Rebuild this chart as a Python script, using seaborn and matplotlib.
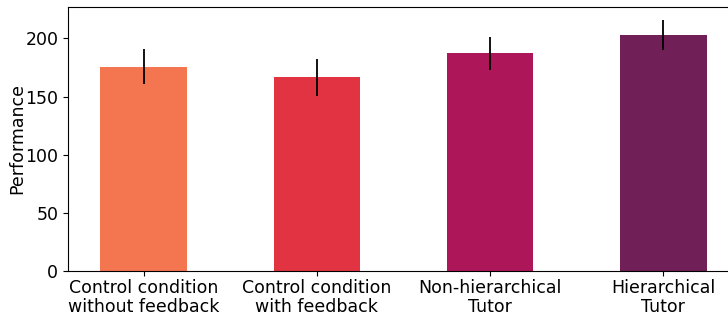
import seaborn as sns
import matplotlib.pyplot as plt
import pandas as pd
import numpy as np

conditions = ['Control condition\nwithout feedback', 'Control condition\nwith feedback',
              'Non-hierarchical\nTutor', 'Hierarchical\nTutor']
performance = [175.5, 166.5, 187.5, 202.8]
err_low = [160.5, 150.5, 173.0, 189.7]
err_high = [190.5, 182.0, 201.0, 216.0]

df = pd.DataFrame({'condition': conditions, 'performance': performance})
colors = sns.color_palette('rocket_r', 6)[1:5]

fig = plt.figure(figsize=(7.28, 3.18), dpi=100)
ax = fig.add_axes([68/728, 1 - 271/318, (750 - 68)/728, (271 - 7)/318])

sns.barplot(data=df, x='condition', y='performance', hue='condition', palette=colors,
            width=0.5, legend=False, ax=ax, saturation=1)
x = np.arange(len(conditions))
ax.vlines(x, err_low, err_high, color='black', lw=1.3)

ax.set_xlim(-0.436, 3.5)
ax.set_ylim(0, 227)
ax.set_xlabel('')
ax.set_ylabel('Performance', fontsize=12.5, labelpad=-1)
ax.tick_params(labelsize=12.5)
ax.tick_params(axis='x', pad=2.5)
for lbl in ax.get_xticklabels():
    lbl.set_linespacing(1.05)

fig.savefig('out.png', dpi=100)
